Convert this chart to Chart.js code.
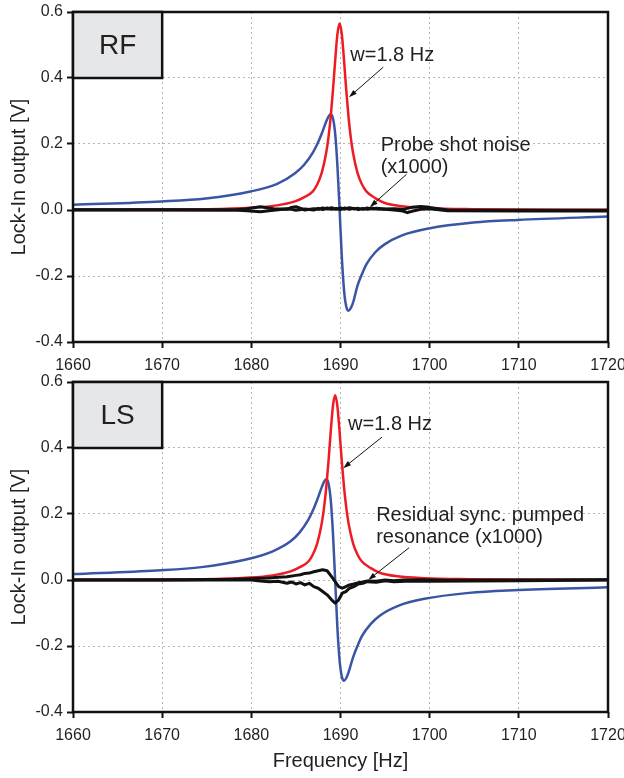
<!DOCTYPE html>
<html>
<head>
<meta charset="utf-8">
<script src="https://cdn.jsdelivr.net/npm/chart.js@4.4.0/dist/chart.umd.min.js"></script>
<style>
    html, body { margin: 0; padding: 0; background: #ffffff; }
    body { width: 624px; height: 778px; position: relative; overflow: hidden; }
    canvas { position: absolute; left: 0; }
    #rfChart { top: 0; }
    #lsChart { top: 360px; }
</style>
</head>
<body>
<canvas id="rfChart" width="624" height="380"></canvas>
<canvas id="lsChart" width="624" height="418"></canvas>
<script>
// ==========================================
// DATA
// ==========================================

const freqRange = [1660, 1720];
const voltRange = [-0.4, 0.6];

// RF panel - red / blue resonance curves
const rfFreq = [1660, 1669.9, 1674.9, 1679.9, 1682.9, 1684.9, 1685.9, 1686.9, 1687.4, 1687.9, 1688.4, 1688.65, 1688.9, 1689.15, 1689.4, 1689.65, 1689.9, 1690.15, 1690.4, 1690.65, 1690.9, 1691.15, 1691.4, 1691.9, 1692.4, 1692.9, 1693.9, 1694.9, 1696.9, 1699.9, 1704.9, 1709.9, 1720];
const rfRed = [0.001, 0.0014, 0.0025, 0.007, 0.014, 0.026, 0.038, 0.0565, 0.0779, 0.113, 0.174, 0.22, 0.2825, 0.3616, 0.452, 0.532, 0.565, 0.532, 0.452, 0.3616, 0.2825, 0.22, 0.174, 0.113, 0.0779, 0.0565, 0.036, 0.022, 0.0113, 0.0056, 0.0025, 0.0014, 0.001];
const rfBlue = [0.016, 0.026, 0.035, 0.056, 0.079, 0.1115, 0.1365, 0.174, 0.2, 0.232, 0.268, 0.283, 0.29, 0.278, 0.232, 0.136, 0, -0.1435, -0.244, -0.293, -0.305, -0.2976, -0.2815, -0.23, -0.195, -0.165, -0.128, -0.105, -0.077, -0.056, -0.038, -0.03, -0.02];

// RF panel - probe shot noise (x1000), two traces
const rfNoiseFreq = [1660, 1670, 1678, 1679.5, 1681, 1682.5, 1684, 1684.5, 1685, 1686, 1687, 1687.5, 1688, 1688.5, 1689, 1689.5, 1690, 1690.5, 1691, 1691.5, 1692, 1692.5, 1693, 1693.5, 1694, 1695, 1696, 1697, 1697.5, 1698, 1699, 1700, 1701, 1702, 1710, 1720];
const rfNoiseA = [0.001, 0.001, 0.0, 0.004, 0.01, 0.004, 0.002, 0.008, 0.01, 0.0, 0.004, 0.002, 0.006, 0.003, 0.007, 0.002, 0.006, 0.003, 0.007, 0.004, 0.005, 0.002, 0.006, 0.003, 0.005, 0.003, 0.004, 0.002, 0.005, 0.008, 0.011, 0.008, 0.004, 0.0, -0.001, -0.001];
const rfNoiseB = [0.0, 0.0, 0.0, -0.002, -0.005, -0.001, 0.004, 0.002, -0.001, 0.003, 0.0, 0.005, 0.001, 0.006, 0.002, 0.005, 0.001, 0.006, 0.002, 0.005, 0.001, 0.005, 0.002, 0.006, 0.003, 0.002, 0.0, -0.003, -0.008, -0.004, 0.002, 0.004, 0.001, -0.002, -0.003, -0.003];

// LS panel - red / blue resonance curves
const lsFreq = [1660, 1669.4, 1674.4, 1679.4, 1682.4, 1684.4, 1685.4, 1686.4, 1686.9, 1687.4, 1687.9, 1688.15, 1688.4, 1688.65, 1688.9, 1689.15, 1689.4, 1689.65, 1689.9, 1690.15, 1690.4, 1690.65, 1690.9, 1691.4, 1691.9, 1692.4, 1693.4, 1694.4, 1696.4, 1699.4, 1704.4, 1709.4, 1720];
const lsRed = [0.001, 0.0014, 0.0025, 0.007, 0.014, 0.026, 0.038, 0.056, 0.0772, 0.112, 0.1723, 0.2185, 0.28, 0.3584, 0.448, 0.527, 0.56, 0.527, 0.448, 0.3584, 0.28, 0.2185, 0.1723, 0.112, 0.0772, 0.056, 0.036, 0.022, 0.0112, 0.0055, 0.0025, 0.0014, 0.001];
const lsBlue = [0.018, 0.029, 0.039, 0.062, 0.087, 0.1173, 0.1435, 0.183, 0.2103, 0.244, 0.2815, 0.2976, 0.305, 0.2928, 0.244, 0.1435, 0, -0.1435, -0.244, -0.2928, -0.305, -0.297, -0.28, -0.235, -0.2, -0.17, -0.133, -0.108, -0.079, -0.057, -0.039, -0.031, -0.022];

// LS panel - residual sync. pumped resonance (x1000), two traces
const lsNoiseFreqA = [1660, 1670, 1678, 1680, 1681, 1682, 1683, 1684, 1685, 1685.5, 1686, 1686.5, 1687, 1687.5, 1688, 1688.5, 1689, 1689.4, 1689.8, 1690.2, 1690.6, 1691, 1691.5, 1692, 1692.5, 1693, 1694, 1695, 1696, 1697, 1699, 1702, 1710, 1720];
const lsNoiseA = [0.0, 0.0, 0.002, 0.004, 0.005, 0.006, 0.008, 0.01, 0.014, 0.016, 0.02, 0.021, 0.025, 0.028, 0.031, 0.028, 0.01, -0.005, -0.02, -0.025, -0.02, -0.015, -0.012, -0.008, -0.006, -0.003, -0.004, 0.0, -0.002, 0.0, 0.001, -0.001, 0.0, 0.001];
const lsNoiseFreqB = [1660, 1670, 1678, 1680, 1681, 1682, 1683, 1684, 1684.5, 1685, 1685.5, 1686, 1686.5, 1687, 1687.5, 1688, 1688.5, 1689, 1689.4, 1689.8, 1690.2, 1690.6, 1691, 1691.5, 1692, 1692.5, 1693, 1694, 1695, 1696, 1698, 1700, 1705, 1710, 1720];
const lsNoiseB = [0.0, 0.0, 0.0, 0.0, -0.003, -0.005, -0.004, -0.01, -0.006, -0.012, -0.008, -0.015, -0.01, -0.02, -0.025, -0.035, -0.045, -0.06, -0.07, -0.06, -0.04, -0.035, -0.025, -0.02, -0.012, -0.01, -0.005, -0.007, -0.002, -0.005, -0.003, -0.004, -0.003, -0.002, 0.0];

// ==========================================
// STYLE
// ==========================================

const FONT = "'Liberation Sans', Arial, Helvetica, sans-serif";
const INK = '#231f20';
const RED = '#ed1c24';
const BLUE = '#3a55a4';

Chart.defaults.font.family = FONT;
Chart.defaults.color = INK;

function pts(xs, ys) {
    return xs.map((x, i) => ({ x: x, y: ys[i] }));
}

function series(xs, ys, color, width, smooth) {
    return {
        data: pts(xs, ys),
        showLine: true,
        borderColor: color,
        backgroundColor: color,
        borderWidth: width,
        pointRadius: 0,
        tension: 0,
        cubicInterpolationMode: smooth ? 'monotone' : 'default',
        borderJoinStyle: 'round',
        borderCapStyle: 'round'
    };
}

// frame, grey tag box and arrow notes, placed in data units
function decorPlugin(decor) {
    return {
        id: 'decor',
        afterDatasetsDraw(chart) {
            const { ctx, chartArea: a, scales } = chart;
            const px = v => scales.x.getPixelForValue(v);
            const py = v => scales.y.getPixelForValue(v);

            ctx.save();

            ctx.lineWidth = 2.5;
            ctx.strokeStyle = '#111';
            ctx.strokeRect(a.left, a.top, a.right - a.left, a.bottom - a.top);

            // tag box
            const bx0 = px(decor.tagX[0]), bx1 = px(decor.tagX[1]);
            const by0 = py(decor.tagY[1]), by1 = py(decor.tagY[0]);
            ctx.fillStyle = '#e6e7e8';
            ctx.fillRect(bx0, by0, bx1 - bx0, by1 - by0);
            ctx.strokeRect(bx0, by0, bx1 - bx0, by1 - by0);
            ctx.fillStyle = INK;
            ctx.font = '28px ' + FONT;
            ctx.textAlign = 'center';
            ctx.textBaseline = 'middle';
            ctx.fillText(decor.tag, (bx0 + bx1) / 2, (by0 + by1) / 2 + 1);

            // notes with arrows
            ctx.font = '20px ' + FONT;
            ctx.textAlign = 'left';
            decor.notes.forEach(n => {
                n.lines.forEach((t, i) => {
                    ctx.fillText(t, px(n.at[0]), py(n.at[1]) + i * 22);
                });
                const x0 = px(n.from[0]), y0 = py(n.from[1]);
                const x1 = px(n.to[0]), y1 = py(n.to[1]);
                const ang = Math.atan2(y1 - y0, x1 - x0);
                ctx.strokeStyle = '#111';
                ctx.lineWidth = 1;
                ctx.beginPath();
                ctx.moveTo(x0, y0);
                ctx.lineTo(x1 - 6 * Math.cos(ang), y1 - 6 * Math.sin(ang));
                ctx.stroke();
                ctx.fillStyle = '#111';
                ctx.beginPath();
                ctx.moveTo(x1, y1);
                ctx.lineTo(x1 - 8 * Math.cos(ang) + 2.6 * Math.sin(ang), y1 - 8 * Math.sin(ang) - 2.6 * Math.cos(ang));
                ctx.lineTo(x1 - 8 * Math.cos(ang) - 2.6 * Math.sin(ang), y1 - 8 * Math.sin(ang) + 2.6 * Math.cos(ang));
                ctx.closePath();
                ctx.fill();
                ctx.fillStyle = INK;
            });

            ctx.restore();
        }
    };
}

// ==========================================
// PANEL BUILDER
// ==========================================

function makePanel(canvasId, datasets, decor, layout) {

    return new Chart(document.getElementById(canvasId), {

        type: 'scatter',

        data: { datasets: datasets },

        plugins: [decorPlugin(decor)],

        options: {

            responsive: false,
            animation: false,
            events: [],

            layout: {
                padding: { top: layout.top, right: 16, left: 0, bottom: 0 }
            },

            plugins: {
                legend: { display: false },
                tooltip: { enabled: false }
            },

            scales: {

                x: {
                    type: 'linear',
                    min: freqRange[0],
                    max: freqRange[1],
                    afterFit: s => {
                        s.height = layout.xAxisHeight;
                        s.paddingLeft = 0; s.paddingRight = 0;
                        s.paddingTop = 0; s.paddingBottom = 0;
                    },
                    ticks: {
                        stepSize: 10,
                        padding: 8,
                        maxRotation: 0,
                        font: { size: 16 },
                        color: INK,
                        callback: v => String(v)
                    },
                    grid: {
                        color: '#b5b5b5',
                        lineWidth: 1,
                        tickColor: '#111',
                        tickWidth: 2,
                        tickLength: 6
                    },
                    border: { display: false, dash: [2, 3] },
                    title: {
                        display: !!layout.xTitle,
                        text: layout.xTitle || '',
                        font: { size: 20, lineHeight: 1.2 },
                        color: INK,
                        padding: { top: 0, bottom: 5 }
                    }
                },

                y: {
                    type: 'linear',
                    min: voltRange[0],
                    max: voltRange[1],
                    afterFit: s => {
                        s.width = 73;
                        s.paddingLeft = 0; s.paddingRight = 0;
                        s.paddingTop = 0; s.paddingBottom = 0;
                    },
                    ticks: {
                        stepSize: 0.2,
                        padding: 4,
                        font: { size: 16 },
                        color: INK,
                        callback: v => v.toFixed(1)
                    },
                    grid: {
                        color: '#b5b5b5',
                        lineWidth: 1,
                        tickColor: '#111',
                        tickWidth: 2,
                        tickLength: 6
                    },
                    border: { display: false, dash: [2, 3] },
                    title: {
                        display: true,
                        text: 'Lock-In output [V]',
                        font: { size: 20, lineHeight: 1.2 },
                        color: INK,
                        padding: { top: 7, bottom: 0 }
                    }
                }
            }
        }
    });
}

// ==========================================
// RF PANEL
// ==========================================

makePanel('rfChart', [
    series(rfNoiseFreq, rfNoiseA, '#111', 3, false),
    series(rfNoiseFreq, rfNoiseB, '#111', 3, false),
    series(rfFreq, rfRed, RED, 2.5, true),
    series(rfFreq, rfBlue, BLUE, 2.5, true)
], {
    tag: 'RF',
    tagX: [1660, 1670],
    tagY: [0.4, 0.6],
    notes: [
        { lines: ['w=1.8 Hz'], at: [1691.1, 0.467], from: [1694.8, 0.433], to: [1690.95, 0.342] },
        { lines: ['Probe shot noise', '(x1000)'], at: [1694.5, 0.194], from: [1697.4, 0.108], to: [1693.3, 0.009] }
    ]
}, { top: 12, xAxisHeight: 38 });

// ==========================================
// LS PANEL
// ==========================================

makePanel('lsChart', [
    series(lsNoiseFreqA, lsNoiseA, '#111', 3, false),
    series(lsNoiseFreqB, lsNoiseB, '#111', 3, false),
    series(lsFreq, lsRed, RED, 2.5, true),
    series(lsFreq, lsBlue, BLUE, 2.5, true)
], {
    tag: 'LS',
    tagX: [1660, 1670],
    tagY: [0.4, 0.6],
    notes: [
        { lines: ['w=1.8 Hz'], at: [1690.85, 0.47], from: [1694.65, 0.433], to: [1690.3, 0.339] },
        { lines: ['Residual sync. pumped', 'resonance (x1000)'], at: [1694.0, 0.195], from: [1697.7, 0.098], to: [1693.1, 0.0] }
    ]
}, { top: 22, xAxisHeight: 66, xTitle: 'Frequency [Hz]' });
</script>
</body>
</html>
